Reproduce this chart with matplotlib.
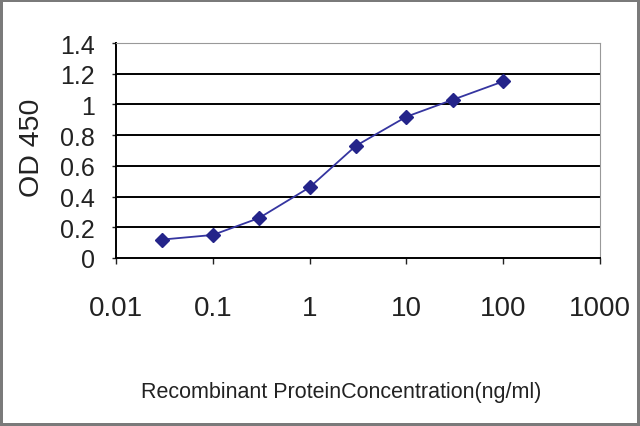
import matplotlib
matplotlib.use("Agg")
import matplotlib.pyplot as plt

# data
concentration = [0.03, 0.1, 0.3, 1, 3, 10, 30, 100]
od450 = [0.12, 0.15, 0.26, 0.46, 0.73, 0.92, 1.03, 1.15]

x_ticks = [0.01, 0.1, 1, 10, 100, 1000]
x_tick_labels = ["0.01", "0.1", "1", "10", "100", "1000"]
y_ticks = [0, 0.2, 0.4, 0.6, 0.8, 1.0, 1.2, 1.4]
y_tick_labels = ["0", "0.2", "0.4", "0.6", "0.8", "1", "1.2", "1.4"]

plt.rcParams["font.family"] = ["Liberation Sans", "DejaVu Sans"]

W, H = 640, 427
fig = plt.figure(figsize=(6.4, 4.27), dpi=100)
fig.patch.set_edgecolor("#7a7a7a")
fig.patch.set_linewidth(4)
ax = fig.add_axes([116 / W, 1 - 259 / H, 484 / W, 215 / H])

ax.plot(concentration, od450, color="#3535a0", linewidth=1.3,
        marker="D", markersize=7, markerfacecolor="#24248a",
        markeredgecolor="#24248a")

ax.set_xscale("log")
ax.set_xlim(0.01, 1000)
ax.set_ylim(0, 1.4)
ax.set_xticks(x_ticks)
ax.set_xticklabels(x_tick_labels)
ax.xaxis.set_minor_locator(matplotlib.ticker.NullLocator())
ax.set_yticks(y_ticks)
ax.set_yticklabels(y_tick_labels)

for y in y_ticks[1:-1]:
    ax.axhline(y, color="black", linewidth=1.4, zorder=0)

ax.spines["left"].set_linewidth(1.4)
ax.spines["bottom"].set_linewidth(1.4)
ax.spines["top"].set_color("#999999")
ax.spines["right"].set_color("#999999")

ax.tick_params(axis="x", direction="out", length=4, width=1, labelsize=20,
               pad=23, colors="#222222")
ax.tick_params(axis="y", direction="out", length=3, width=1, labelsize=18,
               pad=12, colors="#222222")

fig.text(341 / W, 1 - 398 / H, "Recombinant ProteinConcentration(ng/ml)",
         fontsize=15.5, ha="center", va="baseline", color="#222222")
fig.text(32 / W, 1 - 148 / H, "OD 450", fontsize=20.5, rotation=90,
         ha="center", va="center", color="#222222")

fig.savefig("out.png", dpi=100, edgecolor=fig.get_edgecolor())
